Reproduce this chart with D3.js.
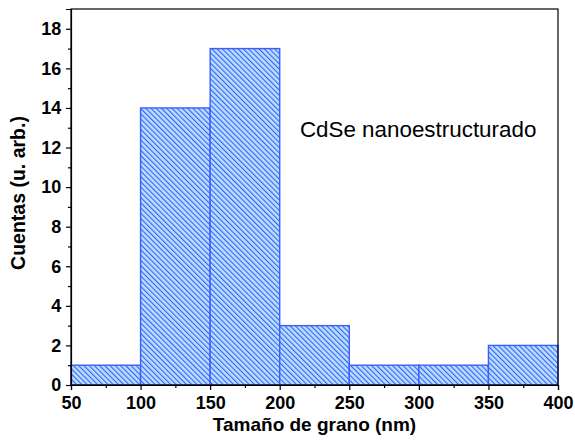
<!DOCTYPE html>
<html><head><meta charset="utf-8">
<script src="https://cdn.jsdelivr.net/npm/d3@7"></script>
<style>body{margin:0;background:#fff}svg{display:block}text{font-family:"Liberation Sans",Arial,sans-serif}</style>
</head><body>
<svg id="c" width="575" height="441"></svg>
<script>
const binStarts = [50, 100, 150, 200, 250, 300, 350];
const binEnds   = [100, 150, 200, 250, 300, 350, 400];
const counts    = [1, 14, 17, 3, 1, 1, 2];
const xTicks = [50, 100, 150, 200, 250, 300, 350, 400];
const yTicks = [0, 2, 4, 6, 8, 10, 12, 14, 16, 18];
const xLabel = "Tamaño de grano (nm)";
const yLabel = "Cuentas (u. arb.)";
const annotation = "CdSe nanoestructurado";

const svg = d3.select("#c");
const L = 71, R = 558, T = 9, B = 385;
const x = d3.scaleLinear().domain([50, 400]).range([L, R]);
const y = d3.scaleLinear().domain([0, 19]).range([B, T]);

const defs = svg.append("defs");
const pw = 3.7;
const pat = defs.append("pattern").attr("id", "hatch").attr("patternUnits", "userSpaceOnUse")
  .attr("width", pw).attr("height", pw).attr("patternTransform", "rotate(-45)");
pat.append("rect").attr("width", pw).attr("height", pw).attr("fill", "#b6e0ff");
pat.append("line").attr("x1", 0.6).attr("y1", 0).attr("x2", 0.6).attr("y2", pw)
  .attr("stroke", "#2a48f5").attr("stroke-width", 0.95);

const data = counts.map((c, i) => ({ x0: binStarts[i], x1: binEnds[i], c }));
svg.selectAll("rect.bar").data(data).join("rect").attr("class", "bar")
  .attr("x", d => x(d.x0)).attr("width", d => x(d.x1) - x(d.x0))
  .attr("y", d => y(d.c)).attr("height", d => y(0) - y(d.c))
  .attr("fill", "url(#hatch)").attr("stroke", "#3d5eff").attr("stroke-width", 1.4);

// frame
svg.append("rect").attr("x", L).attr("y", T).attr("width", R - L).attr("height", B - T)
  .attr("fill", "none").attr("stroke", "#000").attr("stroke-width", 1.2);

const font = '"Liberation Sans",Arial,sans-serif';
// x axis
const xa = svg.append("g").attr("transform", `translate(0,${B})`)
  .call(d3.axisBottom(x).tickValues(xTicks).tickSize(5).tickFormat(d3.format("d")));
const xMinor = d3.range(75, 400, 50);
svg.append("g").attr("transform", `translate(0,${B})`)
  .call(d3.axisBottom(x).tickValues(xMinor).tickSize(3).tickFormat(""))
  .call(g => g.select(".domain").remove());
// y axis
const ya = svg.append("g").attr("transform", `translate(${L},0)`)
  .call(d3.axisLeft(y).tickValues(yTicks).tickSize(5).tickFormat(d3.format("d")));
const yMinor = d3.range(1, 19, 2);
svg.append("g").attr("transform", `translate(${L},0)`)
  .call(d3.axisLeft(y).tickValues(yMinor).tickSize(3).tickFormat(""))
  .call(g => g.select(".domain").remove());

svg.selectAll(".tick line").attr("stroke", "#000").attr("stroke-width", 1.2);
svg.selectAll(".domain").attr("stroke", "#000").attr("stroke-width", 1.2);
xa.selectAll("text").attr("font-size", 18).attr("font-weight", "bold").attr("fill", "#000")
  .attr("font-family", font).attr("dy", "0.88em");
ya.selectAll("text").attr("font-size", 18).attr("font-weight", "bold").attr("fill", "#000")
  .attr("font-family", font).attr("dx", "-0.1em");

svg.append("text").attr("x", (L + R) / 2).attr("y", 431).attr("text-anchor", "middle")
  .attr("font-size", 19).attr("font-weight", "bold").text(xLabel);
svg.append("text").attr("transform", `translate(25,193) rotate(-90)`)
  .attr("text-anchor", "middle").attr("font-size", 19.5).attr("font-weight", "bold").text(yLabel);
svg.append("text").attr("x", x(214.5)).attr("y", y(12.55)).attr("font-size", 22.4).text(annotation);
</script>
</body></html>
